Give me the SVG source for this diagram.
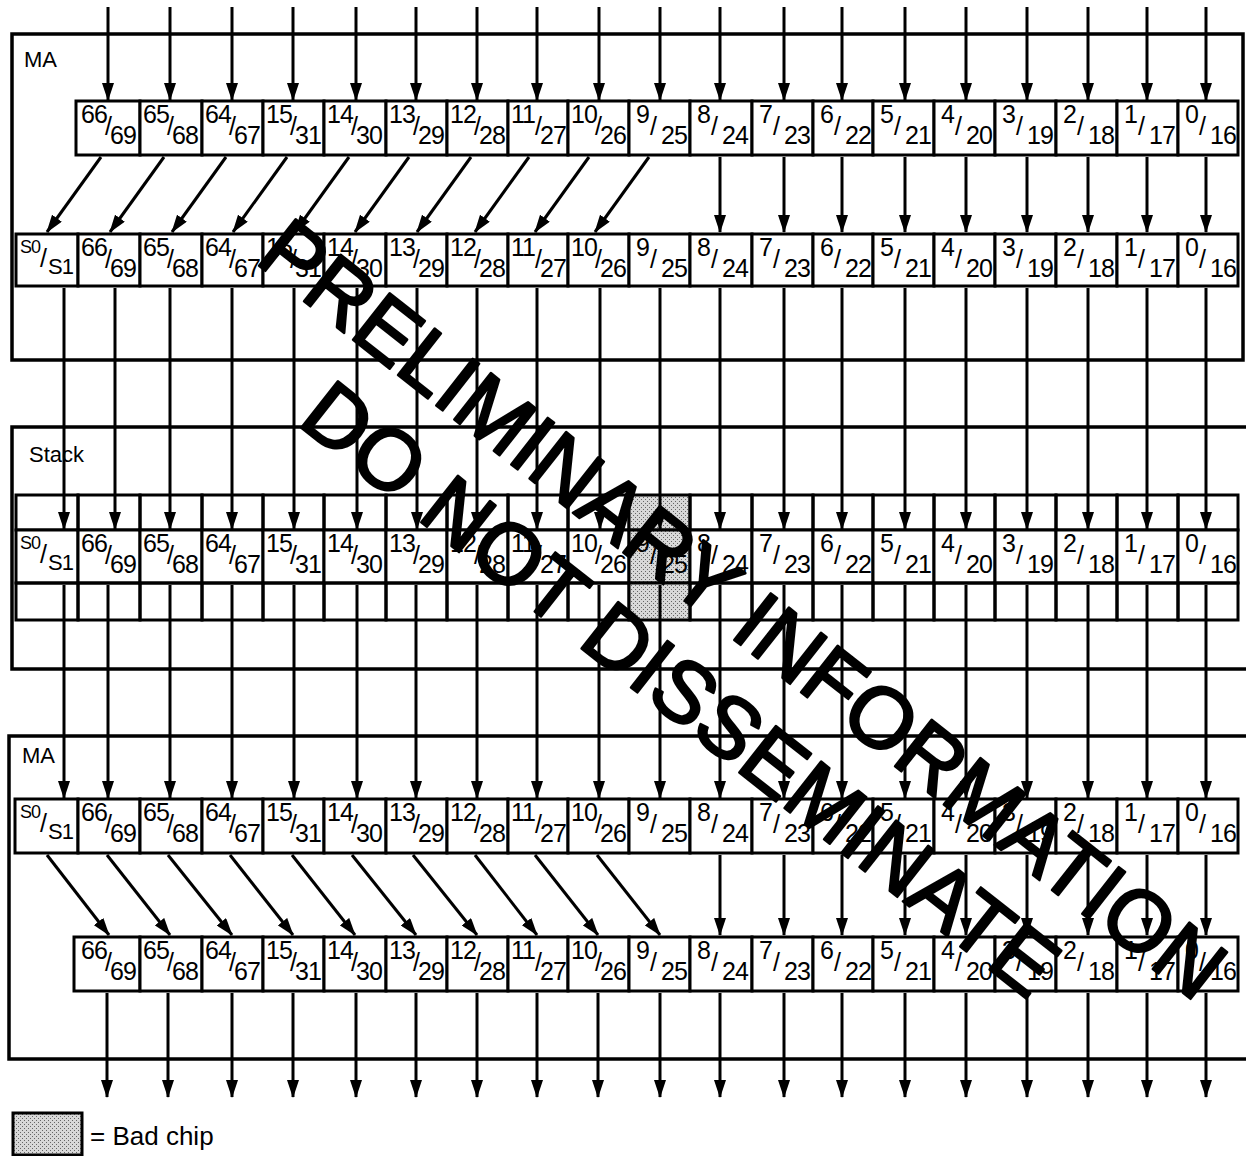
<svg xmlns="http://www.w3.org/2000/svg" width="1246" height="1156" viewBox="0 0 1246 1156">
<style>
.bx{fill:#fff;stroke:#000;stroke-width:3}
.cl{fill:none;stroke:#000;stroke-width:3}
.bad{fill:url(#stip);stroke:#000;stroke-width:3}
.fr{fill:none;stroke:#000;stroke-width:3.5}
.lb{font-family:"Liberation Sans",Arial,Helvetica,sans-serif;font-size:25px;letter-spacing:-1px;fill:#000}
.s0{font-size:18px}
.s1{font-size:22px}
.tt{font-family:"Liberation Sans",Arial,Helvetica,sans-serif;font-size:22px;fill:#000}
.ln{fill:none;stroke:#000;stroke-width:3;marker-end:url(#ah)}
.wm{font-family:"Liberation Sans",Arial,Helvetica,sans-serif;font-size:86px;fill:#000;stroke:#000;stroke-width:2.5;stroke-linejoin:round}
</style>
<defs>
<marker id="ah" viewBox="0 0 18 12" refX="17" refY="6" markerWidth="18" markerHeight="12" markerUnits="userSpaceOnUse" orient="auto"><path d="M0,0 L18,6 L0,12 z" fill="#000"/></marker>
<pattern id="stip" width="4" height="4" patternUnits="userSpaceOnUse"><rect width="4" height="4" fill="#d8d8d8"/><rect width="1" height="1" fill="#666"/><rect x="2" y="2" width="1" height="1" fill="#666"/></pattern>
</defs>
<rect width="1246" height="1156" fill="#fff"/>

<!-- frames -->
<g id="ma-top"><rect class="fr" x="12" y="34" width="1231" height="326"/><text class="tt" x="24" y="67">MA</text></g>
<g id="stack"><rect class="fr" x="12" y="427" width="1240" height="242"/><text class="tt" x="29" y="462">Stack</text></g>
<g id="ma-bottom"><rect class="fr" x="9" y="736" width="1243" height="323"/><text class="tt" x="22" y="763">MA</text></g>

<!-- top MA row 1 -->
<g id="t1-c1" transform="translate(76,101)"><rect class="bx" width="64" height="54"/><text class="lb" x="5" y="22">66<tspan x="29" y="34">/</tspan><tspan x="34" y="43">69</tspan></text></g>
<g id="t1-c2" transform="translate(140,101)"><rect class="bx" width="62" height="54"/><text class="lb" x="3" y="22">65<tspan x="27" y="34">/</tspan><tspan x="32" y="43">68</tspan></text></g>
<g id="t1-c3" transform="translate(202,101)"><rect class="bx" width="61" height="54"/><text class="lb" x="3" y="22">64<tspan x="27" y="34">/</tspan><tspan x="32" y="43">67</tspan></text></g>
<g id="t1-c4" transform="translate(263,101)"><rect class="bx" width="61" height="54"/><text class="lb" x="3" y="22">15<tspan x="27" y="34">/</tspan><tspan x="32" y="43">31</tspan></text></g>
<g id="t1-c5" transform="translate(324,101)"><rect class="bx" width="62" height="54"/><text class="lb" x="3" y="22">14<tspan x="27" y="34">/</tspan><tspan x="32" y="43">30</tspan></text></g>
<g id="t1-c6" transform="translate(386,101)"><rect class="bx" width="61" height="54"/><text class="lb" x="3" y="22">13<tspan x="27" y="34">/</tspan><tspan x="32" y="43">29</tspan></text></g>
<g id="t1-c7" transform="translate(447,101)"><rect class="bx" width="61" height="54"/><text class="lb" x="3" y="22">12<tspan x="27" y="34">/</tspan><tspan x="32" y="43">28</tspan></text></g>
<g id="t1-c8" transform="translate(508,101)"><rect class="bx" width="60" height="54"/><text class="lb" x="3" y="22">11<tspan x="27" y="34">/</tspan><tspan x="32" y="43">27</tspan></text></g>
<g id="t1-c9" transform="translate(568,101)"><rect class="bx" width="61" height="54"/><text class="lb" x="3" y="22">10<tspan x="27" y="34">/</tspan><tspan x="32" y="43">26</tspan></text></g>
<g id="t1-c10" transform="translate(629,101)"><rect class="bx" width="61" height="54"/><text class="lb" x="7" y="22">9<tspan x="21" y="34">/</tspan><tspan x="32" y="43">25</tspan></text></g>
<g id="t1-c11" transform="translate(690,101)"><rect class="bx" width="62" height="54"/><text class="lb" x="7" y="22">8<tspan x="21" y="34">/</tspan><tspan x="32" y="43">24</tspan></text></g>
<g id="t1-c12" transform="translate(752,101)"><rect class="bx" width="61" height="54"/><text class="lb" x="7" y="22">7<tspan x="21" y="34">/</tspan><tspan x="32" y="43">23</tspan></text></g>
<g id="t1-c13" transform="translate(813,101)"><rect class="bx" width="60" height="54"/><text class="lb" x="7" y="22">6<tspan x="21" y="34">/</tspan><tspan x="32" y="43">22</tspan></text></g>
<g id="t1-c14" transform="translate(873,101)"><rect class="bx" width="61" height="54"/><text class="lb" x="7" y="22">5<tspan x="21" y="34">/</tspan><tspan x="32" y="43">21</tspan></text></g>
<g id="t1-c15" transform="translate(934,101)"><rect class="bx" width="61" height="54"/><text class="lb" x="7" y="22">4<tspan x="21" y="34">/</tspan><tspan x="32" y="43">20</tspan></text></g>
<g id="t1-c16" transform="translate(995,101)"><rect class="bx" width="61" height="54"/><text class="lb" x="7" y="22">3<tspan x="21" y="34">/</tspan><tspan x="32" y="43">19</tspan></text></g>
<g id="t1-c17" transform="translate(1056,101)"><rect class="bx" width="61" height="54"/><text class="lb" x="7" y="22">2<tspan x="21" y="34">/</tspan><tspan x="32" y="43">18</tspan></text></g>
<g id="t1-c18" transform="translate(1117,101)"><rect class="bx" width="61" height="54"/><text class="lb" x="7" y="22">1<tspan x="21" y="34">/</tspan><tspan x="32" y="43">17</tspan></text></g>
<g id="t1-c19" transform="translate(1178,101)"><rect class="bx" width="60" height="54"/><text class="lb" x="7" y="22">0<tspan x="21" y="34">/</tspan><tspan x="32" y="43">16</tspan></text></g>

<!-- top MA row 2 -->
<g id="t2-c0" transform="translate(16,234)"><rect class="bx" width="62" height="52"/><text class="lb" x="4" y="19"><tspan class="s0">S0</tspan><tspan x="24" y="33">/</tspan><tspan class="s1" x="32" y="40">S1</tspan></text></g>
<g id="t2-c1" transform="translate(78,234)"><rect class="bx" width="62" height="52"/><text class="lb" x="3" y="22">66<tspan x="27" y="34">/</tspan><tspan x="32" y="43">69</tspan></text></g>
<g id="t2-c2" transform="translate(140,234)"><rect class="bx" width="62" height="52"/><text class="lb" x="3" y="22">65<tspan x="27" y="34">/</tspan><tspan x="32" y="43">68</tspan></text></g>
<g id="t2-c3" transform="translate(202,234)"><rect class="bx" width="61" height="52"/><text class="lb" x="3" y="22">64<tspan x="27" y="34">/</tspan><tspan x="32" y="43">67</tspan></text></g>
<g id="t2-c4" transform="translate(263,234)"><rect class="bx" width="61" height="52"/><text class="lb" x="3" y="22">15<tspan x="27" y="34">/</tspan><tspan x="32" y="43">31</tspan></text></g>
<g id="t2-c5" transform="translate(324,234)"><rect class="bx" width="62" height="52"/><text class="lb" x="3" y="22">14<tspan x="27" y="34">/</tspan><tspan x="32" y="43">30</tspan></text></g>
<g id="t2-c6" transform="translate(386,234)"><rect class="bx" width="61" height="52"/><text class="lb" x="3" y="22">13<tspan x="27" y="34">/</tspan><tspan x="32" y="43">29</tspan></text></g>
<g id="t2-c7" transform="translate(447,234)"><rect class="bx" width="61" height="52"/><text class="lb" x="3" y="22">12<tspan x="27" y="34">/</tspan><tspan x="32" y="43">28</tspan></text></g>
<g id="t2-c8" transform="translate(508,234)"><rect class="bx" width="60" height="52"/><text class="lb" x="3" y="22">11<tspan x="27" y="34">/</tspan><tspan x="32" y="43">27</tspan></text></g>
<g id="t2-c9" transform="translate(568,234)"><rect class="bx" width="61" height="52"/><text class="lb" x="3" y="22">10<tspan x="27" y="34">/</tspan><tspan x="32" y="43">26</tspan></text></g>
<g id="t2-c10" transform="translate(629,234)"><rect class="bx" width="61" height="52"/><text class="lb" x="7" y="22">9<tspan x="21" y="34">/</tspan><tspan x="32" y="43">25</tspan></text></g>
<g id="t2-c11" transform="translate(690,234)"><rect class="bx" width="62" height="52"/><text class="lb" x="7" y="22">8<tspan x="21" y="34">/</tspan><tspan x="32" y="43">24</tspan></text></g>
<g id="t2-c12" transform="translate(752,234)"><rect class="bx" width="61" height="52"/><text class="lb" x="7" y="22">7<tspan x="21" y="34">/</tspan><tspan x="32" y="43">23</tspan></text></g>
<g id="t2-c13" transform="translate(813,234)"><rect class="bx" width="60" height="52"/><text class="lb" x="7" y="22">6<tspan x="21" y="34">/</tspan><tspan x="32" y="43">22</tspan></text></g>
<g id="t2-c14" transform="translate(873,234)"><rect class="bx" width="61" height="52"/><text class="lb" x="7" y="22">5<tspan x="21" y="34">/</tspan><tspan x="32" y="43">21</tspan></text></g>
<g id="t2-c15" transform="translate(934,234)"><rect class="bx" width="61" height="52"/><text class="lb" x="7" y="22">4<tspan x="21" y="34">/</tspan><tspan x="32" y="43">20</tspan></text></g>
<g id="t2-c16" transform="translate(995,234)"><rect class="bx" width="61" height="52"/><text class="lb" x="7" y="22">3<tspan x="21" y="34">/</tspan><tspan x="32" y="43">19</tspan></text></g>
<g id="t2-c17" transform="translate(1056,234)"><rect class="bx" width="61" height="52"/><text class="lb" x="7" y="22">2<tspan x="21" y="34">/</tspan><tspan x="32" y="43">18</tspan></text></g>
<g id="t2-c18" transform="translate(1117,234)"><rect class="bx" width="61" height="52"/><text class="lb" x="7" y="22">1<tspan x="21" y="34">/</tspan><tspan x="32" y="43">17</tspan></text></g>
<g id="t2-c19" transform="translate(1178,234)"><rect class="bx" width="60" height="52"/><text class="lb" x="7" y="22">0<tspan x="21" y="34">/</tspan><tspan x="32" y="43">16</tspan></text></g>

<!-- stack -->
<g id="st-c0" transform="translate(16,495)"><rect class="cl" width="62" height="35"/><rect class="bx" y="35" width="62" height="53"/><rect class="cl" y="88" width="62" height="37"/><text class="lb" x="4" y="54"><tspan class="s0">S0</tspan><tspan x="24" y="68">/</tspan><tspan class="s1" x="32" y="75">S1</tspan></text></g>
<g id="st-c1" transform="translate(78,495)"><rect class="cl" width="62" height="35"/><rect class="bx" y="35" width="62" height="53"/><rect class="cl" y="88" width="62" height="37"/><text class="lb" x="3" y="57">66<tspan x="27" y="69">/</tspan><tspan x="32" y="78">69</tspan></text></g>
<g id="st-c2" transform="translate(140,495)"><rect class="cl" width="62" height="35"/><rect class="bx" y="35" width="62" height="53"/><rect class="cl" y="88" width="62" height="37"/><text class="lb" x="3" y="57">65<tspan x="27" y="69">/</tspan><tspan x="32" y="78">68</tspan></text></g>
<g id="st-c3" transform="translate(202,495)"><rect class="cl" width="61" height="35"/><rect class="bx" y="35" width="61" height="53"/><rect class="cl" y="88" width="61" height="37"/><text class="lb" x="3" y="57">64<tspan x="27" y="69">/</tspan><tspan x="32" y="78">67</tspan></text></g>
<g id="st-c4" transform="translate(263,495)"><rect class="cl" width="61" height="35"/><rect class="bx" y="35" width="61" height="53"/><rect class="cl" y="88" width="61" height="37"/><text class="lb" x="3" y="57">15<tspan x="27" y="69">/</tspan><tspan x="32" y="78">31</tspan></text></g>
<g id="st-c5" transform="translate(324,495)"><rect class="cl" width="62" height="35"/><rect class="bx" y="35" width="62" height="53"/><rect class="cl" y="88" width="62" height="37"/><text class="lb" x="3" y="57">14<tspan x="27" y="69">/</tspan><tspan x="32" y="78">30</tspan></text></g>
<g id="st-c6" transform="translate(386,495)"><rect class="cl" width="61" height="35"/><rect class="bx" y="35" width="61" height="53"/><rect class="cl" y="88" width="61" height="37"/><text class="lb" x="3" y="57">13<tspan x="27" y="69">/</tspan><tspan x="32" y="78">29</tspan></text></g>
<g id="st-c7" transform="translate(447,495)"><rect class="cl" width="61" height="35"/><rect class="bx" y="35" width="61" height="53"/><rect class="cl" y="88" width="61" height="37"/><text class="lb" x="3" y="57">12<tspan x="27" y="69">/</tspan><tspan x="32" y="78">28</tspan></text></g>
<g id="st-c8" transform="translate(508,495)"><rect class="cl" width="60" height="35"/><rect class="bx" y="35" width="60" height="53"/><rect class="cl" y="88" width="60" height="37"/><text class="lb" x="3" y="57">11<tspan x="27" y="69">/</tspan><tspan x="32" y="78">27</tspan></text></g>
<g id="st-c9" transform="translate(568,495)"><rect class="cl" width="61" height="35"/><rect class="bx" y="35" width="61" height="53"/><rect class="cl" y="88" width="61" height="37"/><text class="lb" x="3" y="57">10<tspan x="27" y="69">/</tspan><tspan x="32" y="78">26</tspan></text></g>
<g id="st-c10" transform="translate(629,495)"><rect class="bad" width="61" height="35"/><rect class="bad" y="35" width="61" height="53"/><rect class="bad" y="88" width="61" height="37"/><text class="lb" x="7" y="57">9<tspan x="21" y="69">/</tspan><tspan x="32" y="78">25</tspan></text></g>
<g id="st-c11" transform="translate(690,495)"><rect class="cl" width="62" height="35"/><rect class="bx" y="35" width="62" height="53"/><rect class="cl" y="88" width="62" height="37"/><text class="lb" x="7" y="57">8<tspan x="21" y="69">/</tspan><tspan x="32" y="78">24</tspan></text></g>
<g id="st-c12" transform="translate(752,495)"><rect class="cl" width="61" height="35"/><rect class="bx" y="35" width="61" height="53"/><rect class="cl" y="88" width="61" height="37"/><text class="lb" x="7" y="57">7<tspan x="21" y="69">/</tspan><tspan x="32" y="78">23</tspan></text></g>
<g id="st-c13" transform="translate(813,495)"><rect class="cl" width="60" height="35"/><rect class="bx" y="35" width="60" height="53"/><rect class="cl" y="88" width="60" height="37"/><text class="lb" x="7" y="57">6<tspan x="21" y="69">/</tspan><tspan x="32" y="78">22</tspan></text></g>
<g id="st-c14" transform="translate(873,495)"><rect class="cl" width="61" height="35"/><rect class="bx" y="35" width="61" height="53"/><rect class="cl" y="88" width="61" height="37"/><text class="lb" x="7" y="57">5<tspan x="21" y="69">/</tspan><tspan x="32" y="78">21</tspan></text></g>
<g id="st-c15" transform="translate(934,495)"><rect class="cl" width="61" height="35"/><rect class="bx" y="35" width="61" height="53"/><rect class="cl" y="88" width="61" height="37"/><text class="lb" x="7" y="57">4<tspan x="21" y="69">/</tspan><tspan x="32" y="78">20</tspan></text></g>
<g id="st-c16" transform="translate(995,495)"><rect class="cl" width="61" height="35"/><rect class="bx" y="35" width="61" height="53"/><rect class="cl" y="88" width="61" height="37"/><text class="lb" x="7" y="57">3<tspan x="21" y="69">/</tspan><tspan x="32" y="78">19</tspan></text></g>
<g id="st-c17" transform="translate(1056,495)"><rect class="cl" width="61" height="35"/><rect class="bx" y="35" width="61" height="53"/><rect class="cl" y="88" width="61" height="37"/><text class="lb" x="7" y="57">2<tspan x="21" y="69">/</tspan><tspan x="32" y="78">18</tspan></text></g>
<g id="st-c18" transform="translate(1117,495)"><rect class="cl" width="61" height="35"/><rect class="bx" y="35" width="61" height="53"/><rect class="cl" y="88" width="61" height="37"/><text class="lb" x="7" y="57">1<tspan x="21" y="69">/</tspan><tspan x="32" y="78">17</tspan></text></g>
<g id="st-c19" transform="translate(1178,495)"><rect class="cl" width="60" height="35"/><rect class="bx" y="35" width="60" height="53"/><rect class="cl" y="88" width="60" height="37"/><text class="lb" x="7" y="57">0<tspan x="21" y="69">/</tspan><tspan x="32" y="78">16</tspan></text></g>

<!-- lower MA row 1 -->
<g id="l1-c0" transform="translate(15,799)"><rect class="bx" width="63" height="54"/><text class="lb" x="5" y="19"><tspan class="s0">S0</tspan><tspan x="25" y="33">/</tspan><tspan class="s1" x="33" y="40">S1</tspan></text></g>
<g id="l1-c1" transform="translate(78,799)"><rect class="bx" width="62" height="54"/><text class="lb" x="3" y="22">66<tspan x="27" y="34">/</tspan><tspan x="32" y="43">69</tspan></text></g>
<g id="l1-c2" transform="translate(140,799)"><rect class="bx" width="62" height="54"/><text class="lb" x="3" y="22">65<tspan x="27" y="34">/</tspan><tspan x="32" y="43">68</tspan></text></g>
<g id="l1-c3" transform="translate(202,799)"><rect class="bx" width="61" height="54"/><text class="lb" x="3" y="22">64<tspan x="27" y="34">/</tspan><tspan x="32" y="43">67</tspan></text></g>
<g id="l1-c4" transform="translate(263,799)"><rect class="bx" width="61" height="54"/><text class="lb" x="3" y="22">15<tspan x="27" y="34">/</tspan><tspan x="32" y="43">31</tspan></text></g>
<g id="l1-c5" transform="translate(324,799)"><rect class="bx" width="62" height="54"/><text class="lb" x="3" y="22">14<tspan x="27" y="34">/</tspan><tspan x="32" y="43">30</tspan></text></g>
<g id="l1-c6" transform="translate(386,799)"><rect class="bx" width="61" height="54"/><text class="lb" x="3" y="22">13<tspan x="27" y="34">/</tspan><tspan x="32" y="43">29</tspan></text></g>
<g id="l1-c7" transform="translate(447,799)"><rect class="bx" width="61" height="54"/><text class="lb" x="3" y="22">12<tspan x="27" y="34">/</tspan><tspan x="32" y="43">28</tspan></text></g>
<g id="l1-c8" transform="translate(508,799)"><rect class="bx" width="60" height="54"/><text class="lb" x="3" y="22">11<tspan x="27" y="34">/</tspan><tspan x="32" y="43">27</tspan></text></g>
<g id="l1-c9" transform="translate(568,799)"><rect class="bx" width="61" height="54"/><text class="lb" x="3" y="22">10<tspan x="27" y="34">/</tspan><tspan x="32" y="43">26</tspan></text></g>
<g id="l1-c10" transform="translate(629,799)"><rect class="bx" width="61" height="54"/><text class="lb" x="7" y="22">9<tspan x="21" y="34">/</tspan><tspan x="32" y="43">25</tspan></text></g>
<g id="l1-c11" transform="translate(690,799)"><rect class="bx" width="62" height="54"/><text class="lb" x="7" y="22">8<tspan x="21" y="34">/</tspan><tspan x="32" y="43">24</tspan></text></g>
<g id="l1-c12" transform="translate(752,799)"><rect class="bx" width="61" height="54"/><text class="lb" x="7" y="22">7<tspan x="21" y="34">/</tspan><tspan x="32" y="43">23</tspan></text></g>
<g id="l1-c13" transform="translate(813,799)"><rect class="bx" width="60" height="54"/><text class="lb" x="7" y="22">6<tspan x="21" y="34">/</tspan><tspan x="32" y="43">22</tspan></text></g>
<g id="l1-c14" transform="translate(873,799)"><rect class="bx" width="61" height="54"/><text class="lb" x="7" y="22">5<tspan x="21" y="34">/</tspan><tspan x="32" y="43">21</tspan></text></g>
<g id="l1-c15" transform="translate(934,799)"><rect class="bx" width="61" height="54"/><text class="lb" x="7" y="22">4<tspan x="21" y="34">/</tspan><tspan x="32" y="43">20</tspan></text></g>
<g id="l1-c16" transform="translate(995,799)"><rect class="bx" width="61" height="54"/><text class="lb" x="7" y="22">3<tspan x="21" y="34">/</tspan><tspan x="32" y="43">19</tspan></text></g>
<g id="l1-c17" transform="translate(1056,799)"><rect class="bx" width="61" height="54"/><text class="lb" x="7" y="22">2<tspan x="21" y="34">/</tspan><tspan x="32" y="43">18</tspan></text></g>
<g id="l1-c18" transform="translate(1117,799)"><rect class="bx" width="61" height="54"/><text class="lb" x="7" y="22">1<tspan x="21" y="34">/</tspan><tspan x="32" y="43">17</tspan></text></g>
<g id="l1-c19" transform="translate(1178,799)"><rect class="bx" width="60" height="54"/><text class="lb" x="7" y="22">0<tspan x="21" y="34">/</tspan><tspan x="32" y="43">16</tspan></text></g>

<!-- lower MA row 2 -->
<g id="l2-c1" transform="translate(74,937)"><rect class="bx" width="66" height="54"/><text class="lb" x="7" y="22">66<tspan x="31" y="34">/</tspan><tspan x="36" y="43">69</tspan></text></g>
<g id="l2-c2" transform="translate(140,937)"><rect class="bx" width="62" height="54"/><text class="lb" x="3" y="22">65<tspan x="27" y="34">/</tspan><tspan x="32" y="43">68</tspan></text></g>
<g id="l2-c3" transform="translate(202,937)"><rect class="bx" width="61" height="54"/><text class="lb" x="3" y="22">64<tspan x="27" y="34">/</tspan><tspan x="32" y="43">67</tspan></text></g>
<g id="l2-c4" transform="translate(263,937)"><rect class="bx" width="61" height="54"/><text class="lb" x="3" y="22">15<tspan x="27" y="34">/</tspan><tspan x="32" y="43">31</tspan></text></g>
<g id="l2-c5" transform="translate(324,937)"><rect class="bx" width="62" height="54"/><text class="lb" x="3" y="22">14<tspan x="27" y="34">/</tspan><tspan x="32" y="43">30</tspan></text></g>
<g id="l2-c6" transform="translate(386,937)"><rect class="bx" width="61" height="54"/><text class="lb" x="3" y="22">13<tspan x="27" y="34">/</tspan><tspan x="32" y="43">29</tspan></text></g>
<g id="l2-c7" transform="translate(447,937)"><rect class="bx" width="61" height="54"/><text class="lb" x="3" y="22">12<tspan x="27" y="34">/</tspan><tspan x="32" y="43">28</tspan></text></g>
<g id="l2-c8" transform="translate(508,937)"><rect class="bx" width="60" height="54"/><text class="lb" x="3" y="22">11<tspan x="27" y="34">/</tspan><tspan x="32" y="43">27</tspan></text></g>
<g id="l2-c9" transform="translate(568,937)"><rect class="bx" width="61" height="54"/><text class="lb" x="3" y="22">10<tspan x="27" y="34">/</tspan><tspan x="32" y="43">26</tspan></text></g>
<g id="l2-c10" transform="translate(629,937)"><rect class="bx" width="61" height="54"/><text class="lb" x="7" y="22">9<tspan x="21" y="34">/</tspan><tspan x="32" y="43">25</tspan></text></g>
<g id="l2-c11" transform="translate(690,937)"><rect class="bx" width="62" height="54"/><text class="lb" x="7" y="22">8<tspan x="21" y="34">/</tspan><tspan x="32" y="43">24</tspan></text></g>
<g id="l2-c12" transform="translate(752,937)"><rect class="bx" width="61" height="54"/><text class="lb" x="7" y="22">7<tspan x="21" y="34">/</tspan><tspan x="32" y="43">23</tspan></text></g>
<g id="l2-c13" transform="translate(813,937)"><rect class="bx" width="60" height="54"/><text class="lb" x="7" y="22">6<tspan x="21" y="34">/</tspan><tspan x="32" y="43">22</tspan></text></g>
<g id="l2-c14" transform="translate(873,937)"><rect class="bx" width="61" height="54"/><text class="lb" x="7" y="22">5<tspan x="21" y="34">/</tspan><tspan x="32" y="43">21</tspan></text></g>
<g id="l2-c15" transform="translate(934,937)"><rect class="bx" width="61" height="54"/><text class="lb" x="7" y="22">4<tspan x="21" y="34">/</tspan><tspan x="32" y="43">20</tspan></text></g>
<g id="l2-c16" transform="translate(995,937)"><rect class="bx" width="61" height="54"/><text class="lb" x="7" y="22">3<tspan x="21" y="34">/</tspan><tspan x="32" y="43">19</tspan></text></g>
<g id="l2-c17" transform="translate(1056,937)"><rect class="bx" width="61" height="54"/><text class="lb" x="7" y="22">2<tspan x="21" y="34">/</tspan><tspan x="32" y="43">18</tspan></text></g>
<g id="l2-c18" transform="translate(1117,937)"><rect class="bx" width="61" height="54"/><text class="lb" x="7" y="22">1<tspan x="21" y="34">/</tspan><tspan x="32" y="43">17</tspan></text></g>
<g id="l2-c19" transform="translate(1178,937)"><rect class="bx" width="60" height="54"/><text class="lb" x="7" y="22">0<tspan x="21" y="34">/</tspan><tspan x="32" y="43">16</tspan></text></g>

<!-- connectors -->
<g id="connectors">
<path class="ln" d="M108 7V100"/><path class="ln" d="M170 7V100"/><path class="ln" d="M232 7V100"/><path class="ln" d="M293 7V100"/><path class="ln" d="M356 7V100"/><path class="ln" d="M416 7V100"/><path class="ln" d="M477 7V100"/><path class="ln" d="M537 7V100"/><path class="ln" d="M599 7V100"/><path class="ln" d="M660 7V100"/><path class="ln" d="M720 7V100"/><path class="ln" d="M784 7V100"/><path class="ln" d="M842 7V100"/><path class="ln" d="M905 7V100"/><path class="ln" d="M966 7V100"/><path class="ln" d="M1027 7V100"/><path class="ln" d="M1088 7V100"/><path class="ln" d="M1147 7V100"/><path class="ln" d="M1206 7V100"/>
<path class="ln" d="M101 157L47 232"/><path class="ln" d="M164 157L110 232"/><path class="ln" d="M226 157L172 232"/><path class="ln" d="M287 157L233 232"/><path class="ln" d="M349 157L295 232"/><path class="ln" d="M409 157L355 232"/><path class="ln" d="M471 157L417 232"/><path class="ln" d="M529 157L475 232"/><path class="ln" d="M589 157L535 232"/><path class="ln" d="M649 157L595 232"/>
<path class="ln" d="M720 157V232"/><path class="ln" d="M784 157V232"/><path class="ln" d="M842 157V232"/><path class="ln" d="M905 157V232"/><path class="ln" d="M966 157V232"/><path class="ln" d="M1027 157V232"/><path class="ln" d="M1088 157V232"/><path class="ln" d="M1147 157V232"/><path class="ln" d="M1206 157V232"/>
<path class="ln" d="M64 288V529"/><path class="ln" d="M115 288V529"/><path class="ln" d="M170 288V529"/><path class="ln" d="M232 288V529"/><path class="ln" d="M294 288V529"/><path class="ln" d="M357 288V529"/><path class="ln" d="M417 288V529"/><path class="ln" d="M477 288V529"/><path class="ln" d="M537 288V529"/><path class="ln" d="M600 288V529"/><path class="ln" d="M660 288V529"/><path class="ln" d="M720 288V529"/><path class="ln" d="M784 288V529"/><path class="ln" d="M842 288V529"/><path class="ln" d="M905 288V529"/><path class="ln" d="M966 288V529"/><path class="ln" d="M1027 288V529"/><path class="ln" d="M1088 288V529"/><path class="ln" d="M1147 288V529"/><path class="ln" d="M1206 288V529"/>
<path class="ln" d="M64 585V798"/><path class="ln" d="M108 585V798"/><path class="ln" d="M170 585V798"/><path class="ln" d="M232 585V798"/><path class="ln" d="M294 585V798"/><path class="ln" d="M357 585V798"/><path class="ln" d="M416 585V798"/><path class="ln" d="M477 585V798"/><path class="ln" d="M537 585V798"/><path class="ln" d="M599 585V798"/><path class="ln" d="M660 585V798"/><path class="ln" d="M720 585V798"/><path class="ln" d="M784 585V798"/><path class="ln" d="M842 585V798"/><path class="ln" d="M905 585V798"/><path class="ln" d="M966 585V798"/><path class="ln" d="M1027 585V798"/><path class="ln" d="M1088 585V798"/><path class="ln" d="M1147 585V798"/><path class="ln" d="M1206 585V798"/>
<path class="ln" d="M47 855L109 935"/><path class="ln" d="M107 855L170 935"/><path class="ln" d="M168 855L232 935"/><path class="ln" d="M230 855L293 935"/><path class="ln" d="M292 855L355 935"/><path class="ln" d="M352 855L416 935"/><path class="ln" d="M413 855L477 935"/><path class="ln" d="M475 855L537 935"/><path class="ln" d="M535 855L598 935"/><path class="ln" d="M597 855L660 935"/>
<path class="ln" d="M720 855V935"/><path class="ln" d="M784 855V935"/><path class="ln" d="M842 855V935"/><path class="ln" d="M905 855V935"/><path class="ln" d="M966 855V935"/><path class="ln" d="M1027 855V935"/><path class="ln" d="M1088 855V935"/><path class="ln" d="M1147 855V935"/><path class="ln" d="M1206 855V935"/>
<path class="ln" d="M107 993V1097"/><path class="ln" d="M168 993V1097"/><path class="ln" d="M232 993V1097"/><path class="ln" d="M293 993V1097"/><path class="ln" d="M356 993V1097"/><path class="ln" d="M416 993V1097"/><path class="ln" d="M477 993V1097"/><path class="ln" d="M537 993V1097"/><path class="ln" d="M598 993V1097"/><path class="ln" d="M660 993V1097"/><path class="ln" d="M720 993V1097"/><path class="ln" d="M784 993V1097"/><path class="ln" d="M842 993V1097"/><path class="ln" d="M905 993V1097"/><path class="ln" d="M966 993V1097"/><path class="ln" d="M1027 993V1097"/><path class="ln" d="M1088 993V1097"/><path class="ln" d="M1147 993V1097"/><path class="ln" d="M1206 993V1097"/>
</g>

<!-- watermark -->
<g id="watermark">
<text class="wm" transform="translate(253.5,261.5) rotate(38.2)">PRELIMINARY INFORMATION</text>
<text class="wm" transform="translate(295.7,423.5) rotate(38.2)">DO NOT DISSEMINATE</text>
</g>

<!-- legend -->
<g id="legend"><rect class="bad" x="13" y="1113" width="69" height="42"/><text class="tt" x="90" y="1145" style="font-size:26px">= Bad chip</text></g>
</svg>
